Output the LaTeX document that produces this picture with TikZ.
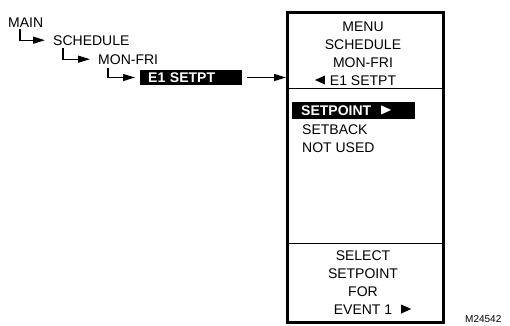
\documentclass[tikz,border=0pt]{standalone}
\usepackage{fontspec}
\setmainfont{Liberation Sans}
\usetikzlibrary{arrows.meta, positioning}

% small filled pointers used in the display text
\newcommand\ptrleft{\tikz[baseline=0pt]\fill (0,5.5pt) -- (10pt,1pt) -- (10pt,10pt) -- cycle;}
\newcommand\ptrright{\tikz[baseline=0pt]\fill (0,1pt) -- (0,10pt) -- (10pt,5.5pt) -- cycle;}

\begin{document}
\begin{tikzpicture}[
    x=1pt, y=-1pt,
    txt/.style={inner sep=0pt, anchor=base west, font=\fontsize{14}{18}\selectfont},
    scrtxt/.style={inner sep=0pt, anchor=base, font=\fontsize{14}{18}\selectfont},
    hilite/.style={fill=black, text=white, font=\fontsize{14}{18}\selectfont\bfseries, inner ysep=0pt, anchor=west, align=left},
    screenbox/.style={rectangle, draw, line width=3pt, minimum width=156pt, minimum height=309.5pt},
    rule/.style={line width=1pt},
    link/.style={line width=1.2pt, -{Triangle[length=12pt,width=7pt]}}
]
\useasboundingbox (0,0) rectangle (510,325);

% menu path
\node (main) [txt] at (8,27) {MAIN};
\node (sched) [txt] at (53,45) {SCHEDULE};
\node (monfri) [txt] at (98,64) {MON-FRI};
\node (event) [hilite, minimum height=15pt, inner xsep=8pt, text width=86pt] at (140,77.5) {E1 SETPT};

% display
\node (screen) [screenbox] at (365.5,167.25) {};
\draw [rule] (screen.west |- 0,88) -- (screen.east |- 0,88);
\draw [rule] (screen.west |- 0,243) -- (screen.east |- 0,243);

\foreach \t [count=\i from 0] in {MENU, SCHEDULE, MON-FRI, {\llap{\ptrleft\hspace{5pt}}E1 SETPT}}
    \node (head\i) [scrtxt] at (363,31.5+18*\i) {\t};

\node (opt1) [hilite, minimum height=17pt, inner xsep=9pt, text width=105pt] at (292,110.5) {SETPOINT\rlap{\hspace{10pt}\ptrright}};
\node (opt2) [txt] at (302,134) {SETBACK};
\node (opt3) [txt] at (302,152) {NOT USED};

\foreach \t [count=\i from 0] in {SELECT, SETPOINT, FOR, {EVENT 1\rlap{\hspace{9pt}\ptrright}}}
    \node (foot\i) [scrtxt] at (363,260.5+18*\i) {\t};

\node (figid) [txt, font=\fontsize{10}{12}\selectfont] at (465,322) {M24542};

% arrows
\draw [link] ([xshift=12pt,yshift=-2pt]main.base west) |- ([xshift=-8pt]sched.west);
\draw [link] ([xshift=10pt,yshift=-3pt]sched.base west) |- ([xshift=-8pt]monfri.west);
\draw [link] ([xshift=10pt,yshift=-4pt]monfri.base west) |- ([xshift=-5pt]event.west);
\draw [link] ([xshift=5pt]event.east) -- (event.east -| screen.west);

\end{tikzpicture}
\end{document}
